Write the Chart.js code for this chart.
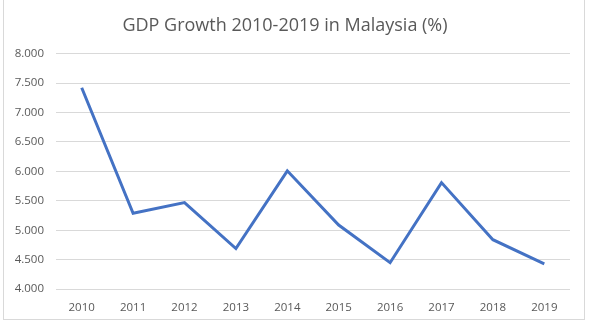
<!DOCTYPE html>
<html>
<head>
<meta charset="utf-8">
<script src="https://cdn.jsdelivr.net/npm/chart.js@4.4.0/dist/chart.umd.min.js"></script>
<style>
  html, body { margin: 0; padding: 0; background: #fff; }
  #wrap { position: absolute; left: 3px; top: 0; width: 582px; height: 320px; border: 1px solid #d9d9d9; border-top: none; box-sizing: border-box; }
  canvas { position: absolute; left: 0; top: 0; }
</style>
</head>
<body>
<div id="wrap"></div>
<canvas id="chart" width="591" height="322"></canvas>
<script>
const years = ['2010', '2011', '2012', '2013', '2014', '2015', '2016', '2017', '2018', '2019'];
const gdpGrowth = [7.42, 5.29, 5.47, 4.69, 6.01, 5.09, 4.45, 5.81, 4.84, 4.43];
const yMin = 4, yMax = 8, yStep = 0.5;

const textColor = '#595959';
const gridColor = '#d9d9d9';

const ctx = document.getElementById('chart').getContext('2d');
new Chart(ctx, {
    type: 'line',
    data: {
        labels: years,
        datasets: [{
            label: 'GDP Growth',
            data: gdpGrowth,
            borderColor: '#4472c4',
            borderWidth: 3,
            pointRadius: 0,
            tension: 0,
            fill: false
        }]
    },
    options: {
        responsive: false,
        animation: false,
        layout: { padding: { left: 0, right: 21, top: 15, bottom: 3 } },
        plugins: {
            legend: { display: false },
            tooltip: { enabled: false },
            title: {
                display: true,
                text: 'GDP Growth 2010-2019 in Malaysia (%)',
                color: textColor,
                font: { family: 'Open Sans', size: 18, weight: 'normal' },
                padding: { top: 0, bottom: 17 }
            }
        },
        scales: {
            x: {
                offset: true,
                grid: { display: false },
                border: { display: false },
                ticks: { color: textColor, font: { family: 'Open Sans', size: 11.5 }, padding: 4, maxRotation: 0 }
            },
            y: {
                min: yMin,
                max: yMax,
                afterFit: (scale) => { scale.width = 56; },
                grid: { color: gridColor, lineWidth: 1, drawTicks: false },
                border: { display: false },
                ticks: {
                    stepSize: yStep,
                    color: textColor,
                    padding: 12,
                    font: { family: 'Open Sans', size: 11.5 },
                    callback: (v) => v.toFixed(3)
                }
            }
        }
    }
});
</script>
</body>
</html>
